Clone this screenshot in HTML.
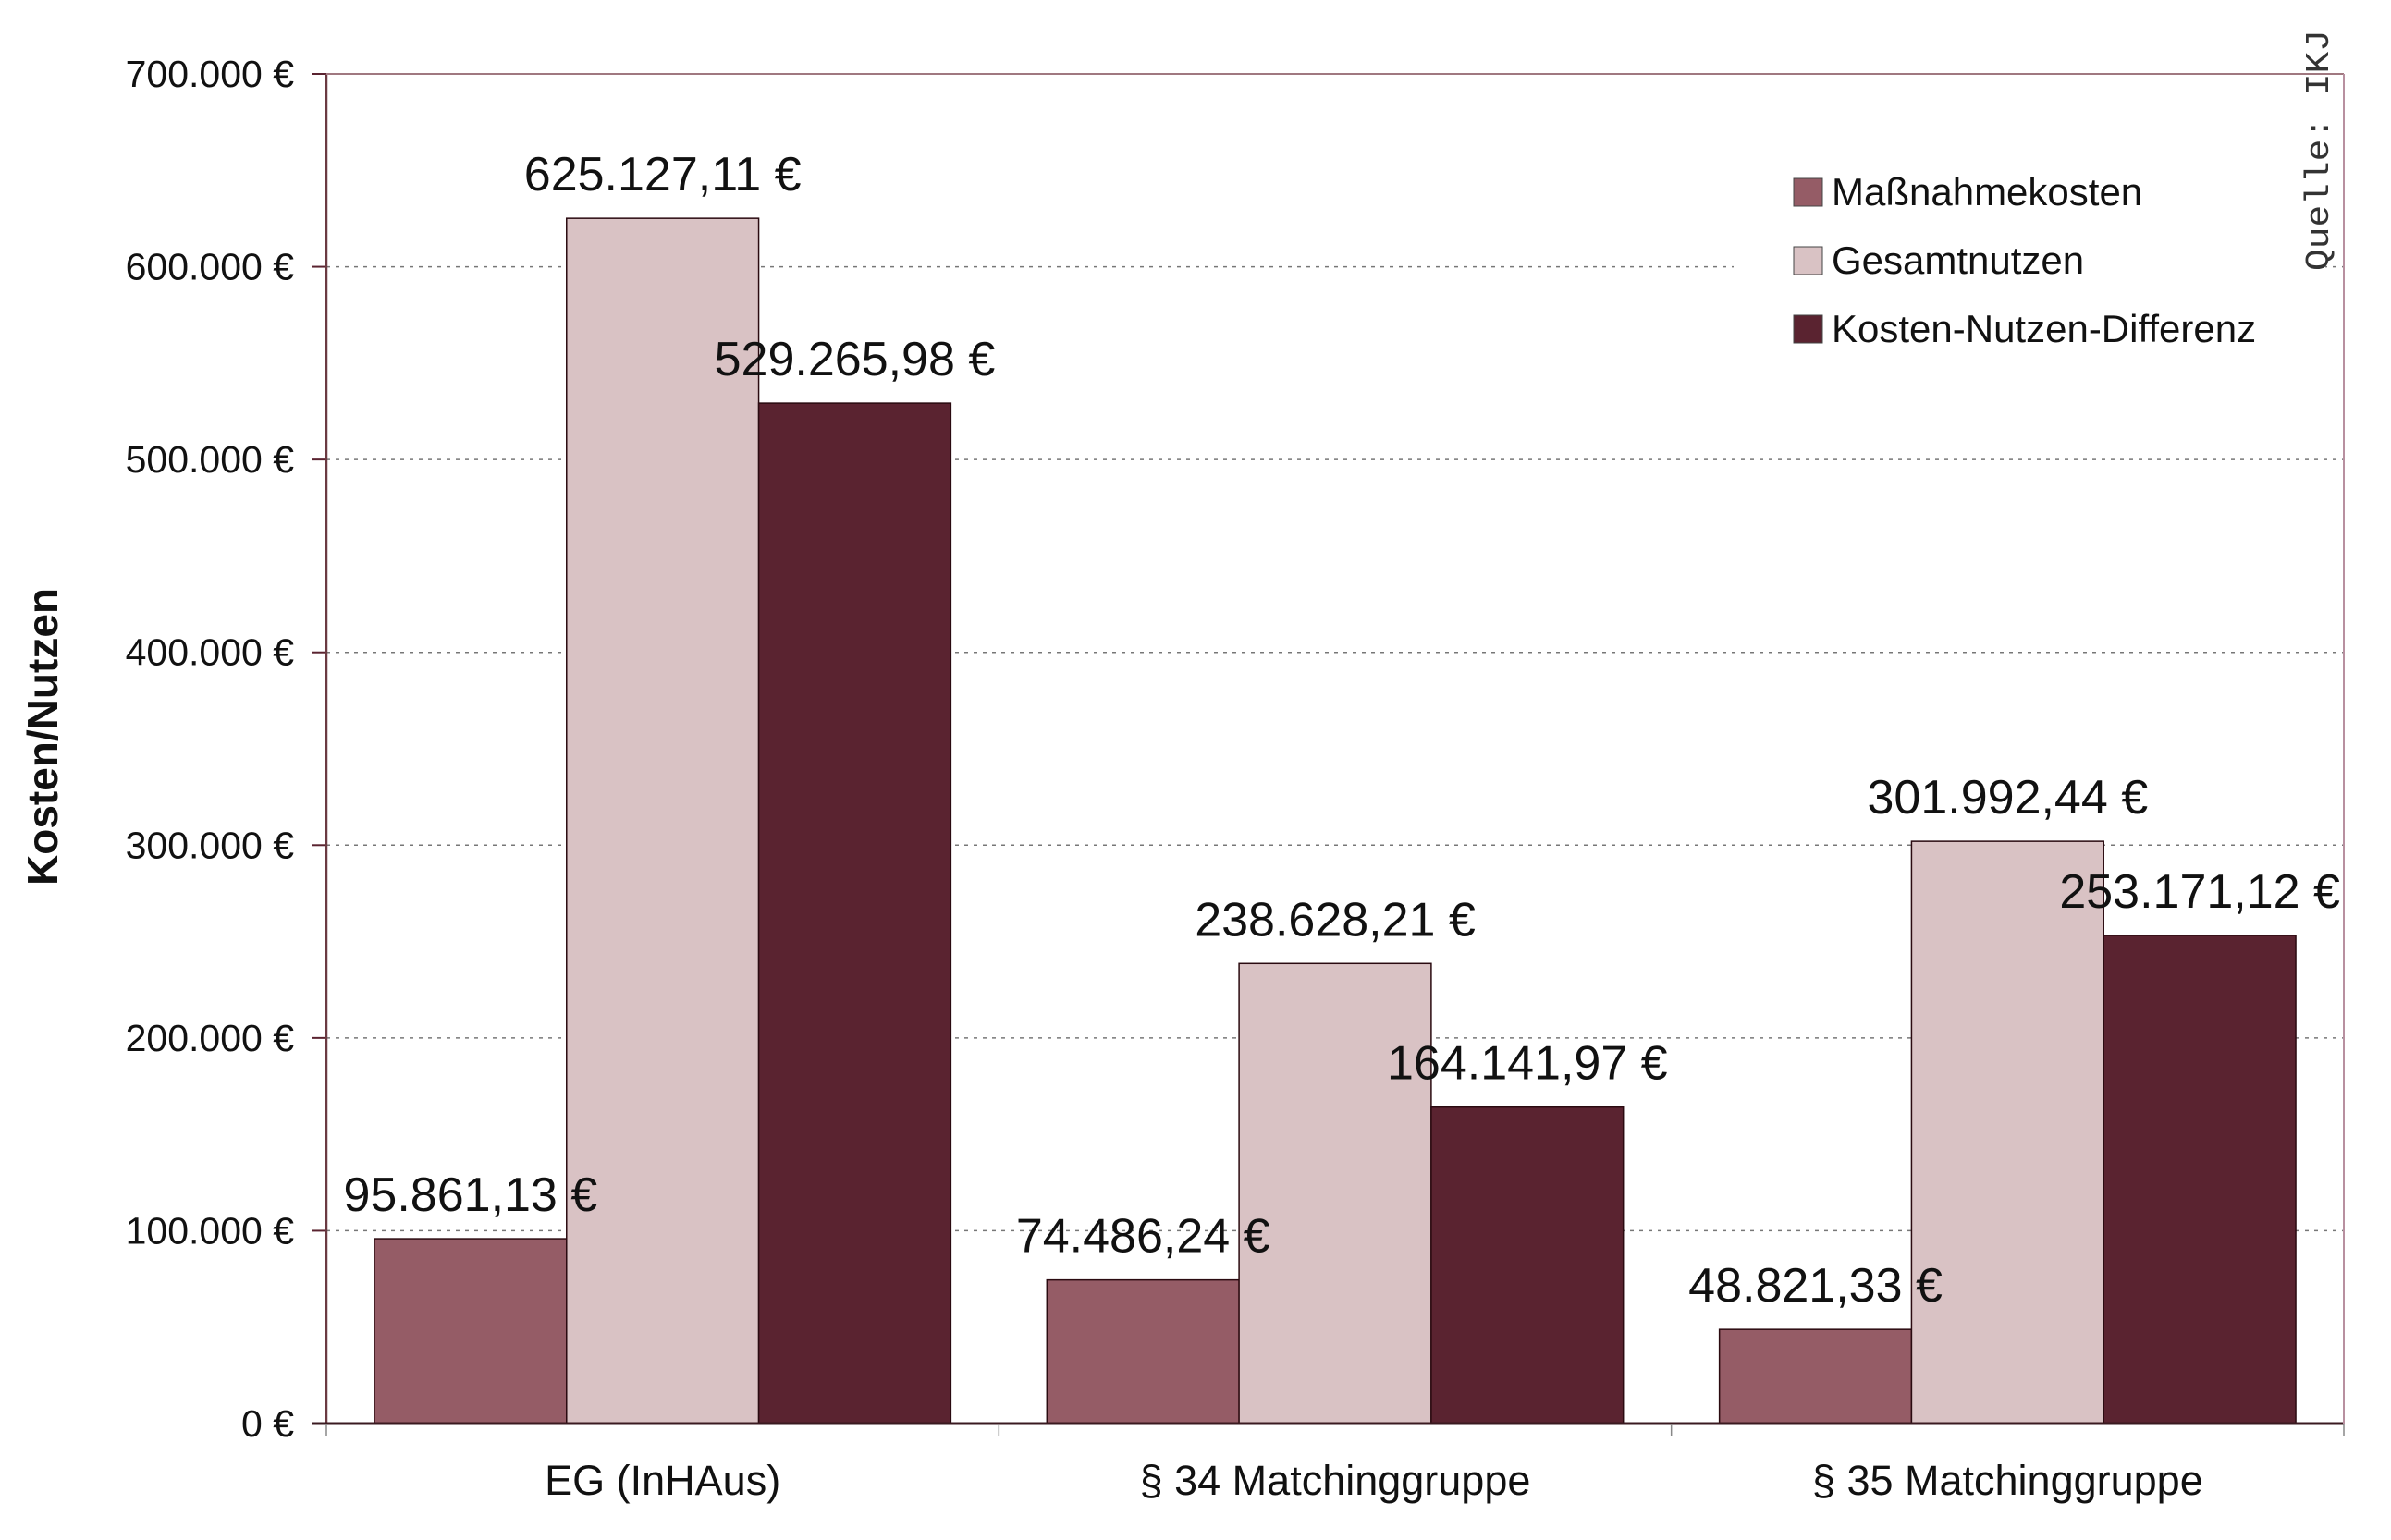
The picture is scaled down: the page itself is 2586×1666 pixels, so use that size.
<!DOCTYPE html>
<html><head><meta charset="utf-8"><style>
html,body{margin:0;padding:0;background:#fff;}
svg{display:block;font-family:"Liberation Sans",sans-serif;}
</style></head><body>
<svg id="chart" width="2586" height="1666" viewBox="0 0 2586 1666" xmlns="http://www.w3.org/2000/svg">
<g id="grid"></g>
<g id="bars"></g>
<g id="axes"></g>
<g id="labels"></g>
<text transform="translate(62,797) rotate(-90)" text-anchor="middle" font-size="46" font-weight="bold" fill="#111">Kosten/Nutzen</text>
<rect x="1875" y="160" width="640" height="236" fill="#fff"/>
<g id="legend"></g>
<text transform="translate(2518,293) rotate(-90)" font-family="Liberation Mono, monospace" font-size="36" fill="#333" textLength="261" lengthAdjust="spacingAndGlyphs">Quelle: IKJ</text>
</svg>
<script>
const categories = ["EG (InHAus)", "§ 34 Matchinggruppe", "§ 35 Matchinggruppe"];
const seriesNames = ["Maßnahmekosten", "Gesamtnutzen", "Kosten-Nutzen-Differenz"];
const massnahmekosten = [95861.13, 74486.24, 48821.33];
const gesamtnutzen = [625127.11, 238628.21, 301992.44];
const differenz = [529265.98, 164141.97, 253171.12];
const valueLabels = [
  ["95.861,13 €", "74.486,24 €", "48.821,33 €"],
  ["625.127,11 €", "238.628,21 €", "301.992,44 €"],
  ["529.265,98 €", "164.141,97 €", "253.171,12 €"]
];
const yTicks = [0, 100000, 200000, 300000, 400000, 500000, 600000, 700000];
const yTickLabels = ["0 €", "100.000 €", "200.000 €", "300.000 €", "400.000 €", "500.000 €", "600.000 €", "700.000 €"];

const NS = "http://www.w3.org/2000/svg";
const PL = 353, PR = 2535, PT = 80, PB = 1540, YMAX = 700000;
const colors = ["#955c66", "#d9c2c4", "#5a2330"];
const series = [massnahmekosten, gesamtnutzen, differenz];
function yScale(v){ return PB - v / YMAX * (PB - PT); }
const groupW = (PR - PL) / categories.length;
const barW = groupW * 0.2857;
function xBar(ci, si){ return PL + ci * groupW + (groupW - 3 * barW) / 2 + si * barW; }
function mk(tag, attrs, parent){ const e = document.createElementNS(NS, tag); for (const k in attrs) e.setAttribute(k, attrs[k]); parent.appendChild(e); return e; }

const gridG = document.getElementById('grid'), axesG = document.getElementById('axes');
const barsG = document.getElementById('bars'), labelsG = document.getElementById('labels'), legendG = document.getElementById('legend');

yTicks.forEach((v, i) => {
  if (v > 0 && v < YMAX) {
    const g = mk('line', {x1: PL, x2: PR, y1: yScale(v), y2: yScale(v), stroke: '#777', 'stroke-width': 1.5, 'stroke-dasharray': '4 6'}, gridG);
    
    
  }
  const t = mk('line', {x1: PL - 16, x2: PL, y1: yScale(v), y2: yScale(v), stroke: '#5a2330', 'stroke-width': 2}, axesG);
  
  
  const tx = mk('text', {x: 318, y: yScale(v) + 14, 'text-anchor': 'end', 'font-size': 41, fill: '#111'}, axesG);
  tx.textContent = yTickLabels[i];
  
  
});

series.forEach((vals, si) => {
  vals.forEach((v, ci) => {
    const r = mk('rect', {x: xBar(ci, si), y: yScale(v), width: barW, height: PB - yScale(v), fill: colors[si], stroke: '#2a0a10', 'stroke-width': 1.5}, barsG);
    
    
    const t = mk('text', {x: xBar(ci, si) + barW / 2, y: yScale(v) - 30, 'text-anchor': 'middle', 'font-size': 52, fill: '#111'}, labelsG);
    t.textContent = valueLabels[si][ci];
    
    
  });
});

const yAxisLine = mk('line', {x1: PL, x2: PL, y1: PT, y2: PB, stroke: '#6a3a42', 'stroke-width': 2.5}, axesG);


const xAxisLine = mk('line', {x1: PL - 16, x2: PR, y1: PB, y2: PB, stroke: '#3a1a20', 'stroke-width': 3}, axesG);


const topBorder = mk('line', {x1: PL, x2: PR, y1: PT, y2: PT, stroke: '#a07880', 'stroke-width': 2}, axesG);


const rightBorder = mk('line', {x1: PR, x2: PR, y1: PT, y2: PB, stroke: '#b890a0', 'stroke-width': 2}, axesG);



for (let i = 0; i <= categories.length; i++) {
  const tk = mk('line', {x1: PL + i * groupW, x2: PL + i * groupW, y1: PB, y2: PB + 14, stroke: '#888', 'stroke-width': 1.5}, axesG);
  
  
}
categories.forEach((c, ci) => {
  const t = mk('text', {x: PL + (ci + 0.5) * groupW, y: 1617, 'text-anchor': 'middle', 'font-size': 45, fill: '#111'}, axesG);
  t.textContent = c;
  
  
});

seriesNames.forEach((n, si) => {
  const cy = 208 + si * 74;
  const s = mk('rect', {x: 1940, y: cy - 15, width: 31, height: 30, fill: colors[si], stroke: '#444', 'stroke-width': 1}, legendG);
  
  
  const t = mk('text', {x: 1981, y: cy + 14, 'font-size': 42, fill: '#111'}, legendG);
  t.textContent = n;
  
  
});
</script>
</body></html>
